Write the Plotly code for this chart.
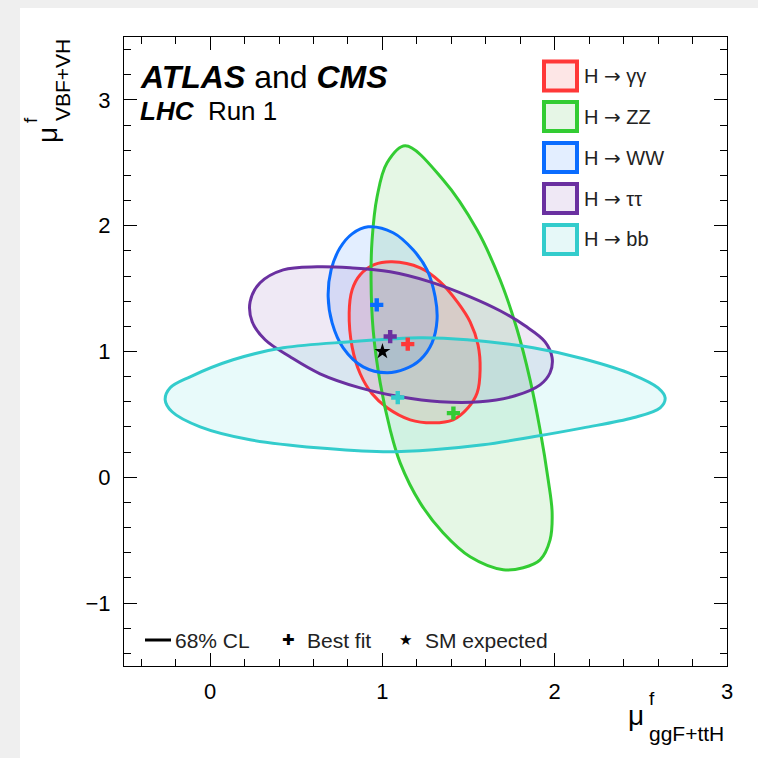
import plotly.graph_objects as go

# ---------------- data ----------------
channels = ["H → γγ", "H → ZZ", "H → WW", "H → ττ", "H → bb"]

gg_x = [1.056, 1.219, 1.335, 1.439, 1.509, 1.555, 1.567, 1.550, 1.497, 1.410, 1.294, 1.161,
        1.027, 0.940, 0.871, 0.824, 0.807, 0.824, 0.871, 0.952]
gg_y = [1.713, 1.665, 1.554, 1.387, 1.236, 1.053, 0.855, 0.672, 0.553, 0.457, 0.433, 0.457,
        0.553, 0.664, 0.823, 1.037, 1.307, 1.490, 1.610, 1.690]

zz_x = [1.132, 1.352, 1.549, 1.683, 1.782, 1.857, 1.915, 1.962, 1.985, 1.973, 1.915, 1.817,
        1.701, 1.509, 1.352, 1.219, 1.103, 1.045, 0.987, 0.946, 0.934, 0.940, 0.969, 1.027]
zz_y = [2.635, 2.365, 1.967, 1.570, 1.173, 0.775, 0.378, -0.020, -0.282, -0.497, -0.656, -0.719,
        -0.735, -0.632, -0.441, -0.203, 0.115, 0.378, 0.751, 1.172, 1.570, 1.888, 2.230, 2.500]

ww_x = [0.917, 1.062, 1.178, 1.259, 1.306, 1.317, 1.288, 1.219, 1.132, 1.027, 0.888, 0.772,
        0.708, 0.685, 0.702, 0.754, 0.824]
ww_y = [1.991, 1.944, 1.808, 1.649, 1.435, 1.252, 1.069, 0.934, 0.862, 0.831, 0.878, 1.029,
        1.228, 1.435, 1.649, 1.824, 1.935]

tt_x = [0.621, 0.813, 1.045, 1.277, 1.509, 1.683, 1.828, 1.944, 1.985, 1.973, 1.915, 1.770,
        1.567, 1.335, 1.103, 0.871, 0.638, 0.464, 0.319, 0.244, 0.232, 0.290, 0.424]
tt_y = [1.673, 1.665, 1.634, 1.554, 1.435, 1.324, 1.204, 1.077, 0.950, 0.831, 0.735, 0.648,
        0.600, 0.600, 0.640, 0.711, 0.823, 0.958, 1.093, 1.236, 1.395, 1.546, 1.649]

bb_x = [-0.261, -0.232, -0.116, 0.133, 0.424, 0.813, 1.219, 1.492, 1.875, 2.165, 2.455, 2.600,
        2.641, 2.612, 2.455, 2.165, 1.875, 1.584, 1.294, 1.004, 0.621, 0.232, -0.058, -0.221]
bb_y = [0.616, 0.711, 0.799, 0.934, 1.029, 1.077, 1.109, 1.093, 1.029, 0.942, 0.815, 0.711,
        0.632, 0.552, 0.473, 0.393, 0.322, 0.258, 0.219, 0.203, 0.234, 0.298, 0.401, 0.521]

best_fit_x = [1.147, 1.412, 0.967, 1.045, 1.089]
best_fit_y = [1.059, 0.510, 1.371, 1.119, 0.634]

sm_x = [1.0]
sm_y = [1.0]

x_tick_vals = [0, 1, 2, 3]
y_tick_vals = [-1, 0, 1, 2, 3]
x_tick_text = ["0", "1", "2", "3"]
y_tick_text = ["−1", "0", "1", "2", "3"]

# ---------------- styles ----------------
line_colors = ["#ff3838", "#33cc33", "#0a6cff", "#6a30a0", "#33cccc"]
fill_colors = ["rgba(255,0,0,0.10)", "rgba(0,180,0,0.10)", "rgba(0,100,255,0.11)",
               "rgba(100,40,160,0.10)", "rgba(0,200,200,0.09)"]
legend_fill = ["#fde6e6", "#e6f6e6", "#e3eeff", "#efe8f5", "#e6f8f8"]

contours_x = [gg_x, zz_x, ww_x, tt_x, bb_x]
contours_y = [gg_y, zz_y, ww_y, tt_y, bb_y]

W, H = 758, 758
L, R, T, B = 124, 727, 37, 666  # plot area in pixels
FONT = "Liberation Sans, Arial, sans-serif"


def px(x):
    return (x - L) / (R - L)


def py(y):
    return (B - y) / (B - T)


fig = go.Figure()

# fills first
for i, name in enumerate(channels):
    xs = list(contours_x[i]) + [contours_x[i][0]]
    ys = list(contours_y[i]) + [contours_y[i][0]]
    fig.add_trace(go.Scatter(
        x=xs, y=ys, mode="lines", name=name, fill="toself",
        fillcolor=fill_colors[i],
        line=dict(color="rgba(0,0,0,0)", width=0, shape="spline", smoothing=1.0),
        showlegend=False, hoverinfo="skip"))

# contour lines on top of all fills
for i, name in enumerate(channels):
    xs = list(contours_x[i]) + [contours_x[i][0]]
    ys = list(contours_y[i]) + [contours_y[i][0]]
    fig.add_trace(go.Scatter(
        x=xs, y=ys, mode="lines", name=name,
        line=dict(color=line_colors[i], width=3, shape="spline", smoothing=1.0),
        showlegend=False, hoverinfo="skip"))

fig.add_trace(go.Scatter(
    x=best_fit_x, y=best_fit_y, mode="markers",
    marker=dict(symbol="cross", size=11, color=line_colors, line=dict(width=0)),
    showlegend=False))

fig.add_trace(go.Scatter(
    x=sm_x, y=sm_y, mode="markers",
    marker=dict(symbol="star", size=12, color="black", line=dict(width=0)),
    showlegend=False))

shapes = []
annotations = []

# page background (grey frame like the reference)
shapes.append(dict(type="rect", xref="paper", yref="paper", layer="below",
                   x0=px(20), x1=px(W + 5), y0=py(8), y1=py(H + 5),
                   fillcolor="white", line=dict(width=0)))

# legend (top right)
centers = [76, 116.5, 157.5, 198.5, 239.5]
for i, name in enumerate(channels):
    c = centers[i]
    label = name.replace("→", "<span style='font-family:DejaVu Sans'>→</span>")
    shapes.append(dict(type="rect", xref="paper", yref="paper",
                       x0=px(544), x1=px(577), y0=py(c + 14.5), y1=py(c - 14.5),
                       fillcolor=legend_fill[i], line=dict(color=line_colors[i], width=4)))
    annotations.append(dict(xref="paper", yref="paper", x=px(582), y=py(c),
                            xanchor="left", yanchor="middle", showarrow=False,
                            text=label, font=dict(family=FONT, size=20, color="#222")))

# bottom legend
shapes.append(dict(type="line", xref="paper", yref="paper",
                   x0=px(145), x1=px(171), y0=py(640), y1=py(640),
                   line=dict(color="black", width=3)))
annotations += [
    dict(xref="paper", yref="paper", x=px(173), y=py(640), xanchor="left", yanchor="middle",
         showarrow=False, text="68% CL", font=dict(family=FONT, size=21, color="#222")),
    dict(xref="paper", yref="paper", x=px(288), y=py(640), xanchor="center", yanchor="middle",
         showarrow=False, text="✚", font=dict(family="DejaVu Sans", size=15, color="black")),
    dict(xref="paper", yref="paper", x=px(305), y=py(640), xanchor="left", yanchor="middle",
         showarrow=False, text="Best fit", font=dict(family=FONT, size=21, color="#222")),
    dict(xref="paper", yref="paper", x=px(405), y=py(640), xanchor="center", yanchor="middle",
         showarrow=False, text="★", font=dict(family="DejaVu Sans", size=15, color="black")),
    dict(xref="paper", yref="paper", x=px(423), y=py(640), xanchor="left", yanchor="middle",
         showarrow=False, text="SM expected", font=dict(family=FONT, size=21, color="#222")),
]

# experiment label
annotations += [
    dict(xref="paper", yref="paper", x=px(138), y=py(77), xanchor="left", yanchor="middle",
         showarrow=False, text="<b><i>ATLAS</i></b> and <b><i>CMS</i></b>",
         font=dict(family=FONT, size=32, color="black")),
    dict(xref="paper", yref="paper", x=px(138), y=py(111), xanchor="left", yanchor="middle",
         showarrow=False, text="<b><i>LHC</i></b>  Run 1",
         font=dict(family=FONT, size=26, color="black")),
]

# axis titles
annotations += [
    dict(xref="paper", yref="paper", x=px(636), y=py(715), xanchor="center", yanchor="middle",
         showarrow=False, text="μ", font=dict(family=FONT, size=28, color="black")),
    dict(xref="paper", yref="paper", x=px(652), y=py(698), xanchor="center", yanchor="middle",
         showarrow=False, text="f", font=dict(family=FONT, size=19, color="black")),
    dict(xref="paper", yref="paper", x=px(647), y=py(733), xanchor="left", yanchor="middle",
         showarrow=False, text="ggF+ttH", font=dict(family=FONT, size=21, color="black")),
    dict(xref="paper", yref="paper", x=px(47), y=py(135), xanchor="center", yanchor="middle",
         showarrow=False, text="μ", textangle=-90, font=dict(family=FONT, size=28, color="black")),
    dict(xref="paper", yref="paper", x=px(31), y=py(120), xanchor="center", yanchor="middle",
         showarrow=False, text="f", textangle=-90, font=dict(family=FONT, size=19, color="black")),
    dict(xref="paper", yref="paper", x=px(63), y=py(123), xanchor="center", yanchor="bottom",
         showarrow=False, text="VBF+VH", textangle=-90, font=dict(family=FONT, size=21, color="black")),
]

axis_common = dict(
    showgrid=False, zeroline=False, showline=True, linecolor="black", linewidth=1,
    mirror="allticks", ticks="inside", ticklen=13, tickwidth=1, tickcolor="black",
    tickfont=dict(family=FONT, size=22, color="black"),
    minor=dict(ticks="inside", ticklen=7, tickwidth=1, tickcolor="black", dtick=0.2),
)

fig.update_layout(
    width=W, height=H, autosize=False,
    margin=dict(l=L, r=W - R, t=T, b=H - B, pad=0),
    paper_bgcolor="#efefef", plot_bgcolor="rgba(0,0,0,0)",
    xaxis=dict(range=[-0.5, 3], tickvals=x_tick_vals, ticktext=x_tick_text,
               ticklabelstandoff=6, **axis_common),
    yaxis=dict(range=[-1.5, 3.5], tickvals=y_tick_vals, ticktext=y_tick_text,
               ticklabelstandoff=8, **axis_common),
    shapes=shapes, annotations=annotations, showlegend=False,
)

fig.write_html("out.html", config={"displayModeBar": False},
               post_script="document.body.style.margin='0';")
